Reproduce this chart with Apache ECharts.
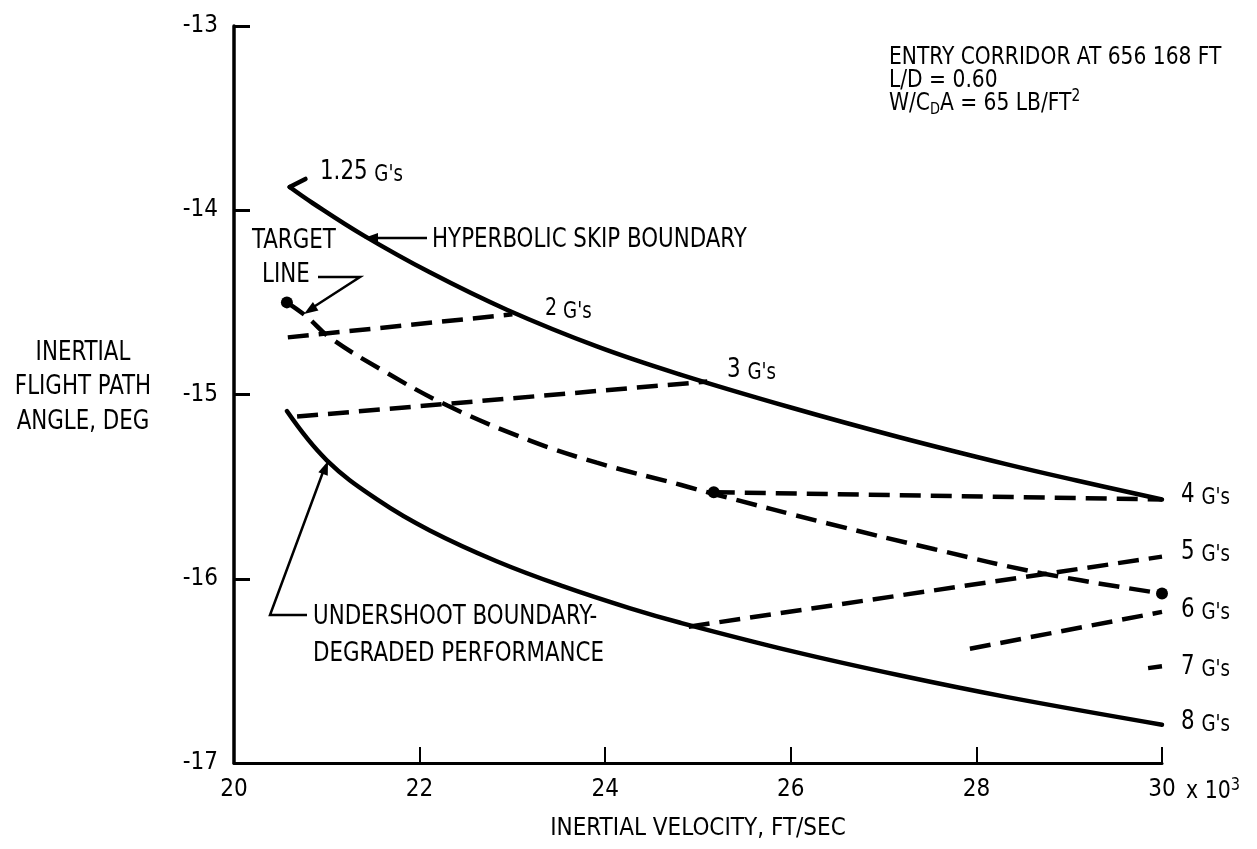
<!DOCTYPE html>
<html>
<head>
<meta charset="utf-8">
<script src="https://cdn.jsdelivr.net/npm/echarts@6/dist/echarts.min.js"></script>
<style>
html,body{margin:0;padding:0;background:#fff;}
#c{width:1257px;height:849px;}
</style>
</head>
<body>
<div id="c"></div>
<script>
// ---- data (x: inertial velocity, 10^3 ft/s; y: flight path angle, deg) ----
const xTicks = [20, 22, 24, 26, 28, 30];
const yTicks = [-17, -16, -15, -14, -13];
const skipBoundary = [[20.60,-13.874],[20.85,-13.962],[21.39,-14.135],[22.11,-14.337],[22.94,-14.540],[23.91,-14.739],[24.81,-14.892],[26.01,-15.072],[27.17,-15.232],[28.32,-15.378],[29.08,-15.467],[30.0,-15.570]];
const hook125 = [[20.60,-13.874],[20.77,-13.83]];
const undershoot = [[20.57,-15.090],[21.0,-15.357],[21.57,-15.579],[22.11,-15.738],[22.83,-15.905],[23.55,-16.042],[24.27,-16.161],[24.81,-16.239],[26.01,-16.393],[27.17,-16.524],[28.32,-16.641],[30.0,-16.792]];
const targetLine = [[20.57,-14.50],[20.79,-14.58],[21.03,-14.69],[21.57,-14.86],[22.3,-15.06],[23.19,-15.25],[23.91,-15.37],[24.81,-15.49],[25.17,-15.54],[26.4,-15.70],[27.55,-15.84],[28.7,-15.97],[30.0,-16.08]];
const g2 = [[20.58,-14.69],[23.0,-14.565]];
const g3 = [[20.68,-15.12],[25.1,-14.93]];
const g4 = [[25.17,-15.53],[30.0,-15.57]];
const g5 = [[24.9,-16.26],[30.0,-15.88]];
const g6 = [[27.93,-16.38],[30.0,-16.18]];
const g7 = [[29.85,-16.485],[30.0,-16.475]];
const dots = [[20.57,-14.50],[25.17,-15.53],[30.0,-16.08]];
const gLabels = ['4', '5', '6', '7', '8'];

const FONT = "'Liberation Sans Narrow','DejaVu Sans Condensed',sans-serif";
const chart = echarts.init(document.getElementById('c'), null, {renderer:'canvas'});

const solid = {color:'#000', width:4.5, type:'solid', cap:'round', join:'round'};
const dashed = {color:'#000', width:4.5, type:[21,10], cap:'butt'};
function line(name, data, style, smooth){
  return {name, type:'line', data, showSymbol:false, symbol:'none', smooth: smooth||false,
    lineStyle:style, silent:true, animation:false, z:3};
}

const RICH = {
  g:{fontSize:23, fontFamily:FONT, fill:'#000', color:'#000', lineHeight:30, verticalAlign:'bottom'},
  d:{fontSize:27, fontFamily:FONT, fill:'#000', color:'#000', lineHeight:30},
  a:{fontSize:24, fontFamily:FONT, fill:'#000', color:'#000', lineHeight:30},
  e:{fontSize:25, fontFamily:FONT, fill:'#000', color:'#000', lineHeight:30},
  sub:{fontSize:16, fontFamily:FONT, fill:'#000', color:'#000', lineHeight:14, verticalAlign:'bottom'},
  sup:{fontSize:17, fontFamily:FONT, fill:'#000', color:'#000', lineHeight:14, verticalAlign:'top'}
};
function txt(text, x, y, size, sx, align){
  return {type:'text', x, y, scaleX: sx||0.88, scaleY:1,
    style:{text, x:0, y:0, fill:'#000', fontSize:size, fontFamily:FONT,
      verticalAlign:'middle', align: align||'left', rich:RICH}};
}
function poly(points, w){
  return {type:'polyline', shape:{points}, style:{stroke:'#000', lineWidth:w||2.5, fill:null}};
}
function arrowHead(tip, from, len, wid){
  const dx = tip[0]-from[0], dy = tip[1]-from[1];
  const L = Math.hypot(dx,dy), ux = dx/L, uy = dy/L;
  const bx = tip[0]-ux*len, by = tip[1]-uy*len;
  return {type:'polygon', shape:{points:[tip,[bx-uy*wid, by+ux*wid],[bx+uy*wid, by-ux*wid]]}, style:{fill:'#000'}};
}

const graphics = [
  txt("{d|1.25} {g|G's}", 320, 172, 27),
  txt('HYPERBOLIC SKIP BOUNDARY', 432, 240, 27),
  poly([[427,238],[372,238]]), arrowHead([364,238],[427,238],14,5),
  txt('TARGET', 252, 241, 27), txt('LINE', 262, 275, 27),
  poly([[318,277],[360,277],[312,308]]), arrowHead([304,314],[360,277],14,5),
  txt("{a|2} {g|G's}", 545, 309, 24),
  txt("{d|3} {g|G's}", 727, 370, 27),
  txt('UNDERSHOOT BOUNDARY-', 313, 617, 27),
  txt('DEGRADED PERFORMANCE', 313, 654, 27),
  poly([[307,615],[270,615],[323,472]]), arrowHead([328,461],[270,615],14,5),
  txt('ENTRY CORRIDOR AT 656 168 FT', 889, 57, 25, 0.9),
  txt('L/D = 0.60', 889, 80, 25, 0.9),
  txt('{e|W/C}{sub|D}{e|A = 65 LB/FT}{sup|2}', 889, 103, 25, 0.9),
  txt('INERTIAL', 83, 353, 27, 0.88, 'center'),
  txt('FLIGHT PATH', 83, 387, 27, 0.88, 'center'),
  txt('ANGLE, DEG', 83, 422, 27, 0.88, 'center'),
  txt('{a|x 10}{sup|3}', 1186, 792, 24, 0.95)
];
const gy = [495, 552, 610, 667, 722];
gLabels.forEach((d,i) => { graphics.push(txt('{d|' + d + "} {g|G's}", 1181, gy[i], 27)); });

const option = {
  backgroundColor:'#fff',
  animation:false,
  grid:{left:234, right:95, top:26, bottom:86, containLabel:false},
  xAxis:{type:'value', min:20, max:30, interval:2,
    name:'INERTIAL VELOCITY, FT/SEC', nameLocation:'middle', nameGap:54,
    nameTextStyle:{color:'#000', fontFamily:FONT, fontSize:24},
    axisLine:{onZero:false, lineStyle:{color:'#000', width:3}},
    axisTick:{inside:true, length:16, lineStyle:{color:'#000', width:2}},
    axisLabel:{color:'#000', fontFamily:FONT, fontSize:24, margin:15,
      formatter: v => xTicks.includes(v) ? String(v) : ''},
    splitLine:{show:false}},
  yAxis:{type:'value', min:-17, max:-13, interval:1,
    axisLine:{onZero:false, lineStyle:{color:'#000', width:3.5}},
    axisTick:{inside:true, length:16, lineStyle:{color:'#000', width:3}},
    axisLabel:{color:'#000', fontFamily:FONT, fontSize:24, margin:16,
      formatter: v => yTicks.includes(v) ? String(v) : ''},
    splitLine:{show:false}},
  series:[
    line('skip', skipBoundary, solid, 0.4),
    line('hook', hook125, solid),
    line('undershoot', undershoot, solid, 0.4),
    line('target', targetLine, dashed, 0.4),
    line('2g', g2, dashed), line('3g', g3, dashed), line('4g', g4, dashed),
    line('5g', g5, dashed), line('6g', g6, dashed), line('7g', g7, dashed),
    {name:'dots', type:'scatter', data:dots, symbol:'circle', symbolSize:12,
     itemStyle:{color:'#000', opacity:1}, silent:true, z:4}
  ],
  graphic: graphics
};
chart.setOption(option);
</script>
</body>
</html>
